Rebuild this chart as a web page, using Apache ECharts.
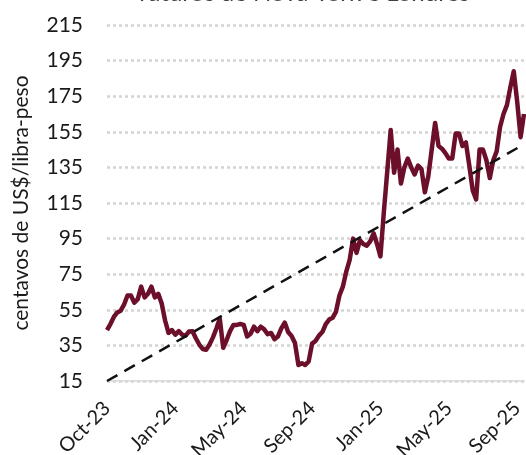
<!DOCTYPE html>
<html>
<head>
<meta charset="utf-8">
<script src="https://cdn.jsdelivr.net/npm/echarts@6/dist/echarts.min.js"></script>
<style>
  html, body { margin: 0; padding: 0; background: #fff; }
  #chart { width: 526px; height: 455px; }
</style>
</head>
<body>
<div id="chart"></div>
<script>
  // eixo x: um ponto a cada ~5 pregões, rótulo a cada 20 pontos
  const tickLabels = ['Oct-23', 'Jan-24', 'May-24', 'Sep-24', 'Jan-25', 'May-25', 'Sep-25']
  const labelEvery = 20

  // preço (centavos de US$/libra-peso)
  const prices = [
    43.6, 47, 51, 53.5, 54.5, 58, 63, 63, 59, 61,
    68, 62, 64, 68, 62, 64, 58.5, 49, 42, 43.6,
    41, 43, 41, 40.5, 42.8, 43, 39, 35.5, 33, 32.5,
    35.5, 39.5, 44.5, 50, 33.7, 38, 43, 46.5, 46.5, 47,
    46.5, 40, 41.5, 45.5, 43, 45.5, 44, 41.3, 42, 38.5,
    40, 44.5, 47.8, 42.5, 40.3, 36.3, 24, 25, 24, 26,
    36, 37.5, 40.5, 42.5, 47, 49.5, 50.5, 54, 63, 68,
    76.5, 83, 95, 87, 94, 92, 91, 93.5, 98, 92,
    85, 110, 133, 156, 132, 145, 126, 135, 140, 135,
    131, 136, 134, 121, 130, 145, 160, 147, 145.5, 143,
    140, 140, 154, 154, 147, 149, 136, 122, 117, 145,
    145, 139, 129, 139, 144, 157.7, 165, 170, 180, 189,
    172, 152, 165
  ]

  // tendência linear: só os extremos
  const trendStart = 15
  const trendEnd = 148

  const categories = prices.map((v, i) => (i % labelEvery === 0 ? tickLabels[i / labelEvery] : ''))
  const trend = prices.map((v, i) => (i === 0 ? trendStart : (i === prices.length - 1 ? trendEnd : null)))

  const font = 'Lato, "Open Sans", sans-serif'
  const chart = echarts.init(document.getElementById('chart'))

  chart.setOption({
    animation: false,
    textStyle: { fontFamily: font },
    graphic: [{
      type: 'text',
      x: 304,
      y: 5,
      style: {
        text: 'futuros de Nova York e Londres',
        fontSize: 24,
        fontFamily: font,
        fill: '#404040',
        align: 'center',
        verticalAlign: 'bottom'
      }
    }],
    grid: {
      left: 107,
      right: 2,
      top: 25,
      bottom: 74,
      outerBoundsMode: 'none'
    },
    xAxis: {
      type: 'category',
      data: categories,
      boundaryGap: false,
      axisLine: { lineStyle: { color: '#d9d9d9', width: 1.5 } },
      axisTick: { show: false },
      axisLabel: {
        interval: (idx) => idx % labelEvery === 0,
        rotate: 45,
        margin: 24,
        fontSize: 20,
        color: '#1a1a1a',
        fontFamily: font
      },
      splitLine: { show: false }
    },
    yAxis: {
      type: 'value',
      min: 15,
      max: 215,
      interval: 20,
      name: 'centavos de US$/libra-peso',
      nameLocation: 'middle',
      nameGap: 75,
      nameTextStyle: { fontSize: 21, color: '#1a1a1a', fontFamily: font },
      axisLine: { show: false },
      axisTick: { show: false },
      axisLabel: { margin: 24, fontSize: 21, color: '#1a1a1a', fontFamily: font },
      splitLine: { lineStyle: { color: '#d4d4d4', width: 2.5, type: [3, 3] } }
    },
    series: [
      {
        type: 'line',
        data: trend,
        connectNulls: true,
        symbol: 'none',
        lineStyle: { color: '#111', width: 2.5, type: [12, 8] },
        z: 3
      },
      {
        type: 'line',
        data: prices,
        symbol: 'none',
        lineStyle: { color: '#6c0f2a', width: 4.5, join: 'round' },
        z: 2
      }
    ]
  })
</script>
</body>
</html>
